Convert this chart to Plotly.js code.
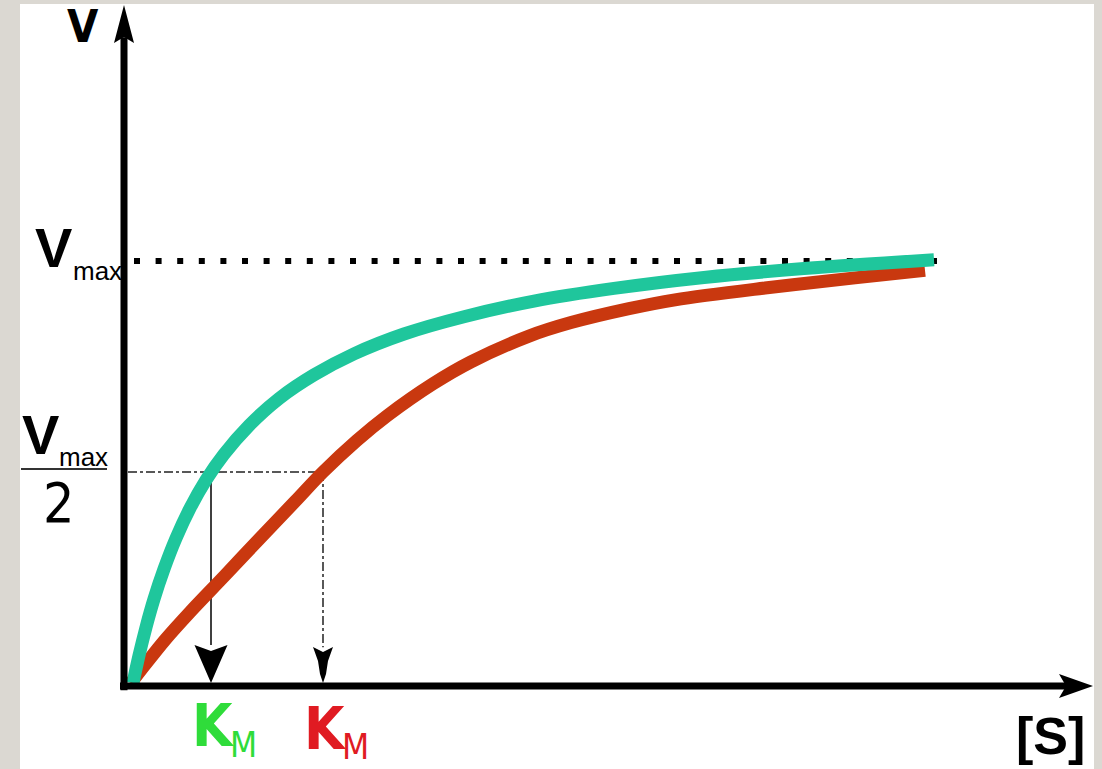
<!DOCTYPE html>
<html>
<head>
<meta charset="utf-8">
<script src="https://cdn.plot.ly/plotly-3.0.1.min.js"></script>
<style>
  html, body { margin: 0; padding: 0; background: #dbd8d2; }
  #chart { width: 1102px; height: 769px; }
</style>
</head>
<body>
<div id="chart"></div>
<script>
// Reaction velocity v against substrate concentration [S] for two enzymes
// that share the same Vmax but have different Michaelis constants.
const VMAX = 1;
const KM_GREEN = 0.87;
const KM_RED = 1.99;

const S_GREEN = [0.09, 0.15, 0.22, 0.30, 0.40, 0.52, 0.66, 0.82, 1.00, 1.25, 1.55, 1.90, 2.30, 2.80, 3.40, 4.10, 4.90, 5.80, 6.80, 8.10];
const V_GREEN = [0.000, 0.065, 0.132, 0.199, 0.270, 0.343, 0.414, 0.481, 0.542, 0.610, 0.674, 0.730, 0.780, 0.827, 0.868, 0.905, 0.935, 0.961, 0.982, 1.003];

const S_RED = [0.07, 0.21, 0.41, 0.66, 1.01, 1.36, 1.71, 1.99, 2.33, 2.63, 3.09, 3.47, 4.05, 4.47, 5.05, 5.51, 6.41, 7.31, 8.01];
const V_RED = [0.000, 0.043, 0.102, 0.168, 0.255, 0.343, 0.430, 0.500, 0.575, 0.633, 0.709, 0.761, 0.822, 0.854, 0.887, 0.908, 0.936, 0.960, 0.978];

// Figure geometry
const W = 1102, H = 769;
const M = { l: 20, r: 8, t: 4, b: 0 };
const PW = W - M.l - M.r, PH = H - M.t - M.b;
const px = x => (x - M.l) / PW;           // page pixel -> paper x
const py = y => (H - M.b - y) / PH;       // page pixel -> paper y

const GREEN_CURVE = '#1fc69c';
const RED_CURVE = '#c9380f';
const GREEN_TEXT = '#2fdc3a';
const RED_TEXT = '#e01b22';
const INK = '#000000';

const NARROW = '"Liberation Sans Narrow", "DejaVu Sans Condensed", "Liberation Sans", sans-serif';
const SANS = '"Liberation Sans", Arial, sans-serif';

const traces = [
  { // Vmax asymptote
    x: [0.10, 8.13], y: [VMAX, VMAX], mode: 'lines',
    line: { color: INK, width: 6, dash: '6px,15.6px' }
  },
  { // half-maximal velocity guide
    x: [0.04, KM_RED], y: [VMAX / 2, VMAX / 2], mode: 'lines',
    line: { color: '#222', width: 1.5, dash: 'dashdot' }
  },
  { // drop line to KM (green enzyme)
    x: [KM_GREEN, KM_GREEN], y: [VMAX / 2, 0.09], mode: 'lines',
    line: { color: INK, width: 1.5 }
  },
  { // drop line to KM (red enzyme)
    x: [KM_RED, KM_RED], y: [VMAX / 2, 0.085], mode: 'lines',
    line: { color: '#222', width: 1.5, dash: 'dashdot' }
  },
  {
    x: S_RED, y: V_RED, mode: 'lines',
    line: { color: RED_CURVE, width: 13, shape: 'spline', smoothing: 1 }
  },
  {
    x: S_GREEN, y: V_GREEN, mode: 'lines',
    line: { color: GREEN_CURVE, width: 13, shape: 'spline', smoothing: 1 }
  }
];

const pixelPath = (xa, ya, path) => ({
  type: 'path', xref: 'x', yref: 'y',
  xsizemode: 'pixel', ysizemode: 'pixel', xanchor: xa, yanchor: ya,
  path: path, fillcolor: INK, line: { width: 0 }, layer: 'above'
});

const shapes = [
  // x axis
  { type: 'line', xref: 'x', yref: 'y', x0: -0.04, x1: 9.42,
    ysizemode: 'pixel', yanchor: 0, y0: -3, y1: -3,
    line: { color: INK, width: 7 }, layer: 'above' },
  // y axis
  { type: 'line', xref: 'x', yref: 'y', x0: 0, x1: 0, y0: -0.017, y1: 1.53,
    line: { color: INK, width: 7 }, layer: 'above' },
  // axis arrowheads
  pixelPath(0, 1.6066, 'M0,0 L-10,-38 L0,-32 L10,-38 Z'),
  pixelPath(9.69, 0, 'M0,-3 L-34,9 L-27,-3 L-34,-15 Z'),
  // KM arrowheads
  pixelPath(KM_GREEN, 0, 'M0,0 L-16.5,38 L0,32 L16.5,38 Z'),
  pixelPath(KM_RED, 0, 'M0,0 L-3,9 L-5,22 L-10,36 L0,31 L10,36 L5,22 L3,9 Z'),
  // fraction bar of Vmax/2
  { type: 'line', xref: 'paper', yref: 'paper', x0: px(21), x1: px(107), y0: py(469), y1: py(469),
    line: { color: '#333', width: 2 } }
];

const label = (text, x, y, font, xanchor) => ({
  text: text, xref: 'paper', yref: 'paper', x: px(x), y: py(y),
  xanchor: xanchor || 'center', yanchor: 'middle', showarrow: false, font: font
});

const annotations = [
  label('V', 82.5, 26, { family: NARROW, size: 45, color: INK, weight: 'bold' }),
  label('V', 53.5, 248, { family: SANS, size: 56, color: INK, weight: 'bold' }),
  label('max', 71, 271, { family: SANS, size: 26, color: INK }, 'left'),
  label('V', 40.5, 434, { family: SANS, size: 56, color: INK, weight: 'bold' }),
  label('max', 57, 457, { family: SANS, size: 26, color: INK }, 'left'),
  label('2', 58.5, 502.5, { family: NARROW, size: 55, color: INK }),
  label('K', 213.5, 726, { family: NARROW, size: 58, color: GREEN_TEXT, weight: 'bold' }),
  label('M', 243.5, 745, { family: NARROW, size: 35, color: GREEN_TEXT }),
  label('K', 325, 729, { family: NARROW, size: 58, color: RED_TEXT, weight: 'bold' }),
  label('M', 355, 746.5, { family: NARROW, size: 35, color: RED_TEXT }),
  label('[S]', 1050, 736, { family: SANS, size: 52, color: INK, weight: 'bold' })
];

const hidden = { showgrid: false, zeroline: false, showline: false, showticklabels: false, ticks: '', fixedrange: true };

const layout = {
  width: W, height: H,
  margin: M,
  paper_bgcolor: '#dbd8d2',
  plot_bgcolor: '#ffffff',
  showlegend: false,
  xaxis: Object.assign({ range: [-1.04, 9.70] }, hidden),
  yaxis: Object.assign({ range: [-0.2038, 1.6090] }, hidden),
  shapes: shapes,
  annotations: annotations
};

Plotly.newPlot('chart', traces, layout, { staticPlot: true, displayModeBar: false });
</script>
</body>
</html>
